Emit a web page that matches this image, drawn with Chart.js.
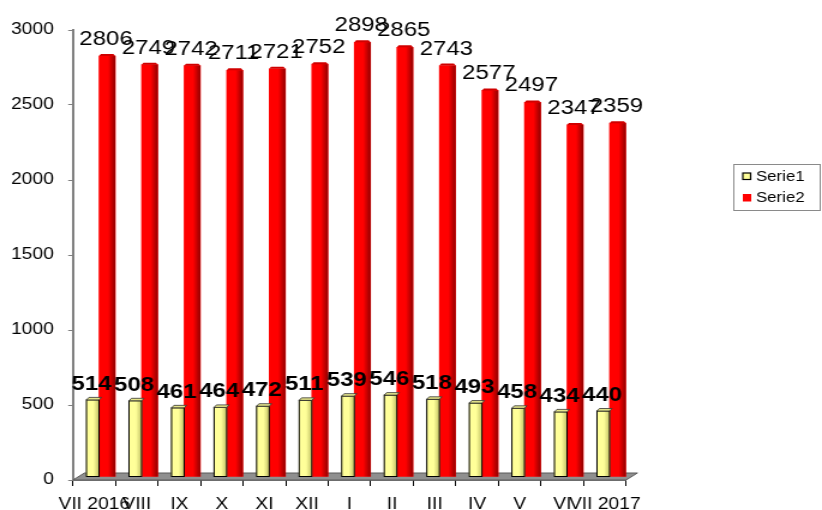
<!DOCTYPE html>
<html>
<head>
<meta charset="utf-8">
<script src="https://cdn.jsdelivr.net/npm/chart.js@4"></script>
<style>
  html, body { margin: 0; padding: 0; background: #fff; overflow: hidden; }
  .wrap { width: 685px; height: 510px; transform: scaleX(1.2); transform-origin: 0 0; }
</style>
</head>
<body>
<div class="wrap"><canvas id="myChart" width="685" height="510"></canvas></div>
<script>
const labels = ["VII 2016", "VIII", "IX", "X", "XI", "XII", "I", "II", "III", "IV", "V", "VI", "VII 2017"];
const serie1 = [514, 508, 461, 464, 472, 511, 539, 546, 518, 493, 458, 434, 440];
const serie2 = [2806, 2749, 2742, 2711, 2721, 2752, 2898, 2865, 2743, 2577, 2497, 2347, 2359];
const yTicks = [0, 500, 1000, 1500, 2000, 2500, 3000];

const FONT = "'Liberation Sans', Arial, sans-serif";
// 3D depth shift of the bars
const DX = 4, DY = -3;

function sideShade(ctx, bar, rgb, alpha) {
  const l = bar.x - bar.width / 2;
  const g = ctx.createLinearGradient(l, 0, l + bar.width, 0);
  g.addColorStop(0, "rgba(" + rgb + ",0)");
  g.addColorStop(0.55, "rgba(" + rgb + ",0)");
  g.addColorStop(1, "rgba(" + rgb + "," + alpha + ")");
  ctx.fillStyle = g;
  ctx.fillRect(l, bar.y, bar.width, bar.base - bar.y);
}

const barPlugin = {
  id: "bars3d",
  beforeDatasetsDraw(chart) {
    const ctx = chart.ctx;
    const a = chart.chartArea;
    // grey floor
    ctx.save();
    ctx.beginPath();
    ctx.moveTo(a.left, a.bottom);
    ctx.lineTo(a.right, a.bottom);
    ctx.lineTo(a.right + 9.5, a.bottom - 7);
    ctx.lineTo(a.left + 9.5, a.bottom - 7);
    ctx.closePath();
    ctx.fillStyle = "#8f8f8f";
    ctx.fill();
    ctx.strokeStyle = "#5a5a5a";
    ctx.lineWidth = 1;
    ctx.stroke();
    ctx.restore();

    ctx.save();
    ctx.translate(DX, DY);
  },
  afterDatasetsDraw(chart) {
    const ctx = chart.ctx;
    // shading on the red bars
    chart.getDatasetMeta(1).data.forEach((bar) => {
      const l = bar.x - bar.width / 2, r = bar.x + bar.width / 2;
      sideShade(ctx, bar, "110,0,0", 0.75);
      ctx.fillStyle = "#d00000";
      ctx.beginPath();
      ctx.moveTo(l, bar.y);
      ctx.lineTo(r, bar.y);
      ctx.lineTo(r - 1.5, bar.y - 2);
      ctx.lineTo(l + 1.5, bar.y - 2);
      ctx.closePath();
      ctx.fill();
    });
    // shading and top caps on the yellow bars
    chart.getDatasetMeta(0).data.forEach((bar) => {
      const l = bar.x - bar.width / 2, r = bar.x + bar.width / 2;
      sideShade(ctx, bar, "120,120,40", 0.45);
      ctx.strokeStyle = "#000";
      ctx.lineWidth = 1;
      ctx.strokeRect(l, bar.y, bar.width, bar.base - bar.y);
      ctx.beginPath();
      ctx.moveTo(l, bar.y);
      ctx.lineTo(r, bar.y);
      ctx.lineTo(r + 2, bar.y - 2.5);
      ctx.lineTo(l + 2, bar.y - 2.5);
      ctx.closePath();
      ctx.fillStyle = "#e6e68a";
      ctx.fill();
      ctx.strokeStyle = "#333";
      ctx.lineWidth = 0.8;
      ctx.stroke();
    });
    ctx.restore();

    // value labels
    ctx.save();
    ctx.fillStyle = "#000";
    ctx.textAlign = "center";
    ctx.textBaseline = "alphabetic";
    ctx.font = "bold 20px " + FONT;
    chart.getDatasetMeta(0).data.forEach((bar, i) => {
      ctx.fillText(serie1[i], bar.x + DX - 1, bar.y + DY - 10);
    });
    ctx.font = "20px " + FONT;
    chart.getDatasetMeta(1).data.forEach((bar, i) => {
      ctx.fillText(serie2[i], bar.x + DX - 1, bar.y + DY - 11);
    });
    ctx.restore();
  },
  afterDraw(chart) {
    // legend box
    const ctx = chart.ctx;
    ctx.save();
    ctx.strokeStyle = "#8a8a8a";
    ctx.lineWidth = 1;
    ctx.strokeRect(611.5, 164.5, 72, 46);
    ctx.fillStyle = "#ffff99";
    ctx.fillRect(619, 173, 6.5, 6.5);
    ctx.strokeStyle = "#000";
    ctx.lineWidth = 1.2;
    ctx.strokeRect(619, 173, 6.5, 6.5);
    ctx.fillStyle = "#ff0000";
    ctx.fillRect(619, 194, 7, 7.5);
    ctx.fillStyle = "#000";
    ctx.font = "14px " + FONT;
    ctx.textBaseline = "middle";
    ctx.textAlign = "left";
    ctx.fillText("Serie1", 630, 177);
    ctx.fillText("Serie2", 630, 198);
    ctx.restore();
  },
};

const ctx = document.getElementById("myChart").getContext("2d");

const chart = new Chart(ctx, {
  type: "bar",
  data: {
    labels,
    datasets: [
      {
        label: "Serie1",
        data: serie1,
        backgroundColor: "#ffff99",
        borderWidth: 0,
        barThickness: 10.5,
      },
      {
        label: "Serie2",
        data: serie2,
        backgroundColor: "#ff0000",
        borderWidth: 0,
        barThickness: 13.5,
      },
    ],
  },
  options: {
    responsive: false,
    animation: false,
    devicePixelRatio: 1,
    layout: { padding: { top: 30, right: 163.3, bottom: 0, left: 0 } },
    datasets: { bar: { categoryPercentage: 0.706 } },
    plugins: {
      legend: { display: false },
      tooltip: { enabled: false },
    },
    scales: {
      x: {
        offset: true,
        grid: {
          offset: true,
          drawOnChartArea: false,
          tickLength: 6,
          color: "#000",
        },
        border: { color: "#000", width: 1.5 },
        ticks: {
          color: "#000",
          font: { family: FONT, size: 16 },
          padding: 9,
          maxRotation: 0,
          autoSkip: false,
        },
        afterFit(scale) {
          scale.height = 30;
        },
      },
      y: {
        min: 0,
        max: 3000,
        afterBuildTicks(scale) {
          scale.ticks = yTicks.map((v) => ({ value: v }));
        },
        grid: {
          drawOnChartArea: false,
          tickLength: 4,
          color: "#808080",
        },
        border: { color: "#808080", width: 2 },
        ticks: {
          color: "#000",
          font: { family: FONT, size: 16 },
          padding: 12,
          callback: (value) => String(value),
        },
        afterFit(scale) {
          scale.width = 60.8;
        },
      },
    },
  },
  plugins: [barPlugin],
});
</script>
</body>
</html>
